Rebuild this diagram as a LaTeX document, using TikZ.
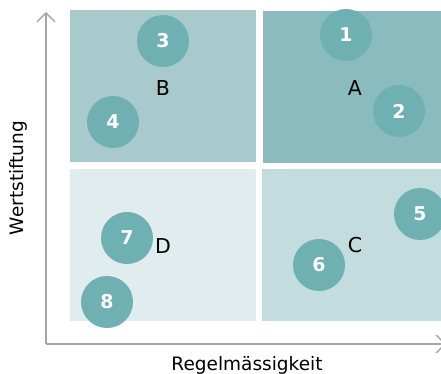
\documentclass[tikz,border=0pt]{standalone}
\usepackage{fontspec}
\setmainfont{DejaVu Sans}
\usetikzlibrary{arrows.meta}
\definecolor{qa}{HTML}{8ABCBF}
\definecolor{qb}{HTML}{A8CACC}
\definecolor{qc}{HTML}{C3DCDD}
\definecolor{qd}{HTML}{E0ECED}
\definecolor{dot}{HTML}{6FB0B2}
\definecolor{axis}{HTML}{A6A6A6}
\tikzset{
  quad/.style={draw=none, inner sep=0pt, minimum width=186pt, minimum height=152pt},
  dotnode/.style={circle, fill=dot, draw=none, minimum size=52pt, inner sep=0pt, text=white, font=\fontsize{19}{19}\selectfont\bfseries},
  lab/.style={font=\fontsize{20.5}{20.5}\selectfont, text=black, inner sep=0pt},
  axlab/.style={font=\fontsize{18.5}{18.5}\selectfont, text=black, inner sep=0pt},
  axisline/.style={draw=axis, line width=1.6pt, -{Straight Barb[length=9pt,width=18pt,line width=1.4pt]}},
}
\begin{document}
\begin{tikzpicture}[x=1pt,y=-1pt]
\useasboundingbox (0,0) rectangle (441,374);
\clip (0,0) rectangle (441,374);
% quadrants
\node[quad, fill=qb, anchor=north west] (QB) at (70,10) {};
\node[quad, fill=qa, anchor=north west, minimum width=200pt] (QA) at (263,11) {};
\node[quad, fill=qd, anchor=north west] (QD) at (70,169) {};
\node[quad, fill=qc, anchor=north west, minimum width=200pt] (QC) at (262,169) {};
% axes
\coordinate (O) at (46,344);
\coordinate (YT) at (46,12);
\coordinate (XT) at (446,344);
\draw[axisline] (O) -- (YT);
\draw[axisline] (O) -- (XT);
% labels
\node[lab] (lB) at (163,88) {B};
\node[lab] (lA) at (355,88) {A};
\node[lab] (lC) at (355,245) {C};
\node[lab] (lD) at (163,246) {D};
% circles
\node[dotnode] (d1) at (346,35) {1};
\node[dotnode] (d2) at (399,111) {2};
\node[dotnode] (d3) at (163,41) {3};
\node[dotnode] (d4) at (113,122) {4};
\node[dotnode] (d5) at (420,214) {5};
\node[dotnode] (d6) at (319,265) {6};
\node[dotnode] (d7) at (127,238) {7};
\node[dotnode] (d8) at (107,302) {8};
% axis titles
\node[axlab, rotate=90] (ty) at (18,178) {Wertstiftung};
\node[axlab] (tx) at (247,365) {Regelmässigkeit};
\end{tikzpicture}
\end{document}
